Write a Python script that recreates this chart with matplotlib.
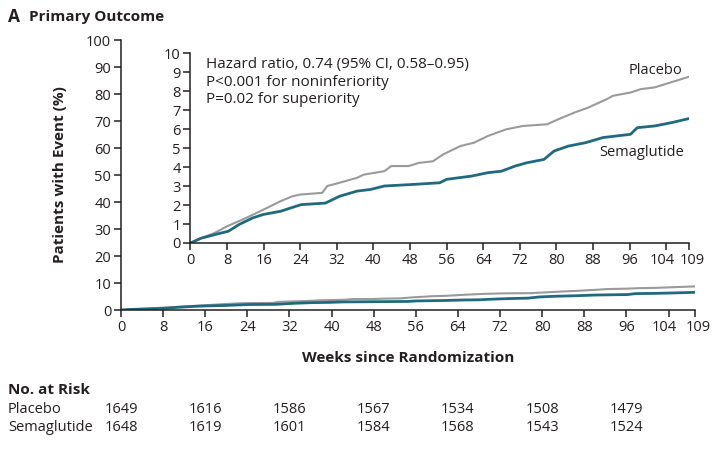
import numpy as np
import matplotlib.pyplot as plt
import matplotlib.transforms as mtransforms

plt.rcParams['font.family'] = ['Open Sans', 'DejaVu Sans']

# cumulative incidence (%)
weeks_pbo = [0, 2.3, 5.3, 8, 12, 16, 19.7, 22.3, 24, 28.8, 29.9, 32.6, 36.4, 37.9, 42.4, 43.9,
             47.7, 50, 53, 55.3, 59, 62, 65, 69, 72.7, 78, 80.3, 84, 87, 91, 92.4, 96.2, 98.5,
             101.5, 109]
pbo = [0, 0.25, 0.53, 0.88, 1.3, 1.76, 2.2, 2.46, 2.55, 2.64, 3.0, 3.17, 3.43, 3.6, 3.78, 4.05,
       4.05, 4.22, 4.3, 4.67, 5.1, 5.28, 5.63, 5.98, 6.16, 6.25, 6.5, 6.87, 7.13, 7.57, 7.75, 7.92,
       8.1, 8.19, 8.75]

weeks_sema = [0, 2.3, 5.3, 8.3, 10.6, 13.6, 15.9, 19.7, 22, 24.2, 29.5, 32.6, 36.4, 39.4, 42.4,
              48.5, 54.5, 56, 61.4, 65, 68, 71, 73.5, 77.3, 79.5, 82.6, 86.4, 90.2, 96.2, 97.7,
              101.5, 105.3, 109]
sema = [0, 0.25, 0.44, 0.62, 0.97, 1.32, 1.5, 1.67, 1.85, 2.02, 2.1, 2.46, 2.73, 2.82, 3.0,
        3.08, 3.17, 3.35, 3.52, 3.7, 3.78, 4.05, 4.22, 4.4, 4.84, 5.1, 5.28, 5.55, 5.72, 6.07,
        6.16, 6.34, 6.55]

xticks = [0, 8, 16, 24, 32, 40, 48, 56, 64, 72, 80, 88, 96, 104, 109]
risk_weeks = [0, 16, 32, 48, 64, 80, 96]
risk_pbo = [1649, 1616, 1586, 1567, 1534, 1508, 1479]
risk_sema = [1648, 1619, 1601, 1584, 1568, 1543, 1524]

GRAY = '#9a9a9a'
TEAL = '#1f6a7e'
INK = '#231f20'

fig = plt.figure(figsize=(7.27, 4.5), dpi=100)


def style(ax):
    for s in ['top', 'right']:
        ax.spines[s].set_visible(False)
    for s in ['left', 'bottom']:
        ax.spines[s].set_color(INK)
        ax.spines[s].set_linewidth(1.1)
    ax.tick_params(direction='out', length=5, width=1.1, color=INK,
                   labelsize=10.5, labelcolor=INK, pad=2)
    ax.set_xlim(0, 109)
    ax.set_xticks(xticks)
    # last two ticks sit close together: push them apart a little
    labs = ax.get_xticklabels()
    for lab, dx in [(labs[-2], -4), (labs[-1], 3)]:
        off = mtransforms.ScaledTranslation(dx / 100, 0, fig.dpi_scale_trans)
        lab.set_transform(lab.get_transform() + off)


# main axes
ax = fig.add_axes([0.1664, 0.3111, 0.7895, 0.6])
ax.set_ylim(0, 100)
ax.set_yticks(range(0, 101, 10))
style(ax)
ax.plot(weeks_pbo, pbo, color=GRAY, lw=1.5)
ax.plot(weeks_sema, sema, color=TEAL, lw=2)
ax.set_xlabel('Weeks since Randomization', fontsize=11, fontweight='bold', color=INK, labelpad=12)
ax.set_ylabel('Patients with Event (%)', fontsize=11, fontweight='bold', color=INK, labelpad=14)

# inset
ins = fig.add_axes([0.262, 0.46, 0.6857, 0.4222])
ins.set_ylim(0, 10)
ins.set_yticks(range(0, 11))
style(ins)
ins.patch.set_alpha(0)
ins.plot(weeks_pbo, pbo, color=GRAY, lw=1.5)
ins.plot(weeks_sema, sema, color=TEAL, lw=2)
ins.text(3.4, 9.8, 'Hazard ratio, 0.74 (95% CI, 0.58\u20130.95)\nP<0.001 for noninferiority\nP=0.02 for superiority',
         fontsize=11, color=INK, va='top', ha='left', linespacing=1.25)
ins.text(107.5, 9.1, 'Placebo', fontsize=10.5, color=INK, ha='right', va='center')
ins.text(108, 4.75, 'Semaglutide', fontsize=10.5, color=INK, ha='right', va='center')

# title
fig.text(0.011, 0.962, 'A', fontsize=12.5, fontweight='bold', color=INK, va='center')
fig.text(0.04, 0.962, 'Primary Outcome', fontsize=11, fontweight='bold', color=INK, va='center')

# numbers at risk
fig.text(0.011, 0.133, 'No. at Risk', fontsize=11, fontweight='bold', color=INK, va='center')
fig.text(0.011, 0.089, 'Placebo', fontsize=10.5, color=INK, va='center')
fig.text(0.011, 0.049, 'Semaglutide', fontsize=10.5, color=INK, va='center')
for w, p, s in zip(risk_weeks, risk_pbo, risk_sema):
    ax.annotate(str(p), xy=(w, 0), xycoords=('data', 'figure fraction'),
                xytext=(0, 0.089 * 450), textcoords='offset pixels',
                ha='center', va='center', fontsize=10.5, color=INK, annotation_clip=False)
    ax.annotate(str(s), xy=(w, 0), xycoords=('data', 'figure fraction'),
                xytext=(0, 0.049 * 450), textcoords='offset pixels',
                ha='center', va='center', fontsize=10.5, color=INK, annotation_clip=False)

fig.savefig('out.png', dpi=100)
